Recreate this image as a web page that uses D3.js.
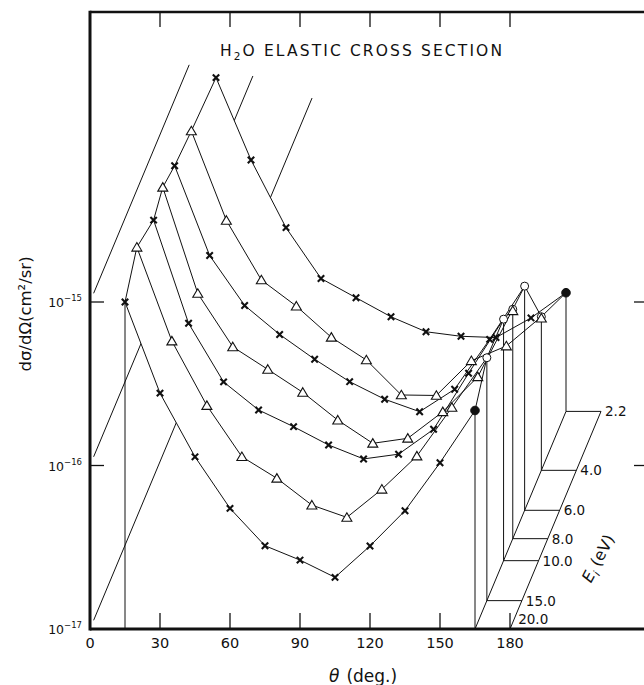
<!DOCTYPE html>
<html>
<head>
<meta charset="utf-8">
<script src="https://cdn.jsdelivr.net/npm/d3@7"></script>
<style>
  html, body { margin: 0; padding: 0; background: #fff; }
  svg { display: block; }
  text { font-family: "DejaVu Sans", "Liberation Sans", sans-serif; fill: #111; }
</style>
</head>
<body>
<svg id="chart" width="644" height="685"></svg>
<script>
// ---------------- data ----------------
const angles = [15, 30, 45, 60, 75, 90, 105, 120, 135, 150, 165];      // scattering angle (deg)
const energies = [20.0, 15.0, 10.0, 8.0, 6.0, 4.0, 2.2];                // incident energy (eV)
const energyLabels = ["20.0", "15.0", "10.0", "8.0", "6.0", "4.0", "2.2"];
const markerKinds = ["cross", "triangle", "cross", "triangle", "cross", "triangle", "cross"];
const endKinds = ["filled", "open", "open", "openTri", "open", "openTri", "filled"];

// differential cross sections (cm^2/sr)
const dcs20 = [1.00e-15, 2.77e-16, 1.13e-16, 5.47e-17, 3.23e-17, 2.64e-17, 2.07e-17, 3.22e-17, 5.29e-17, 1.04e-16, 2.17e-16];
const dcs15 = [1.45e-15, 3.87e-16, 1.56e-16, 7.59e-17, 5.60e-17, 3.84e-17, 3.23e-17, 4.80e-17, 7.66e-17, 1.52e-16, 3.06e-16];
const dcs10 = [1.21e-15, 2.83e-16, 1.24e-16, 8.35e-17, 6.60e-17, 5.10e-17, 4.19e-17, 4.48e-17, 6.36e-17, 1.40e-16, 3.00e-16];
const dcs8  = [1.41e-15, 3.16e-16, 1.49e-16, 1.085e-16, 7.85e-17, 5.31e-17, 3.83e-17, 4.11e-17, 5.97e-17, 9.77e-17, 2.53e-16];
const dcs6  = [1.28e-15, 3.62e-16, 1.79e-16, 1.19e-16, 8.39e-17, 6.12e-17, 4.78e-17, 4.01e-17, 5.50e-17, 1.11e-16, 2.35e-16];
const dcs4  = [1.19e-15, 3.38e-16, 1.46e-16, 1.01e-16, 6.51e-17, 4.73e-17, 2.89e-17, 2.87e-17, 4.68e-17, 5.76e-17, 8.70e-17];
const dcs22 = [1.10e-15, 3.45e-16, 1.33e-16, 6.50e-17, 4.96e-17, 3.79e-17, 3.07e-17, 2.88e-17, 2.83e-17, 3.73e-17, 5.32e-17];
const dcsSeries = [dcs20, dcs15, dcs10, dcs8, dcs6, dcs4, dcs22];

const xTicks = [0, 30, 60, 90, 120, 150, 180];
const yTicks = [1e-17, 1e-16, 1e-15];
const yTickExp = ["-17", "-16", "-15"];
const wallReach = [2.44, 1.79, 1.09];   // extent of wall grid lines along the energy (depth) axis
const wallStart = 0.04;
const ribbonAngles = [165, 180];        // floor ribbon carrying the energy axis

// ---------------- scales ----------------
const svg = d3.select("#chart");
const x = d3.scaleLinear().domain([0, 180]).range([90, 510]);
const y = d3.scaleLog().domain([1e-17, 1e-15]).range([629, 302]);
const depth = d3.scaleLog().domain([20, 2.2]).range([0, 1]);
const DX = 91, DY = -217.6;              // oblique direction of the energy axis
const proj = (theta, sig, t) => [x(theta) + t * DX, y(sig) + t * DY];

const series = energies.map((E, i) => {
  const t = depth(E);
  return {
    E, t, label: energyLabels[i], marker: markerKinds[i], end: endKinds[i],
    pts: angles.map((a, j) => proj(a, dcsSeries[i][j], t))
  };
});

const yBase = y(1e-17);
const plotRight = 646, plotTop = 12;

// ---------------- frame & axes ----------------
const frame = svg.append("g").attr("stroke", "#111").attr("fill", "none");
frame.append("line").attr("x1", x(0)).attr("x2", plotRight).attr("y1", plotTop).attr("y2", plotTop).attr("stroke-width", 2.5);
frame.append("line").attr("x1", x(0)).attr("x2", plotRight).attr("y1", yBase).attr("y2", yBase).attr("stroke-width", 3);
frame.append("line").attr("x1", x(0)).attr("x2", x(0)).attr("y1", plotTop - 1.2).attr("y2", yBase + 1.5).attr("stroke-width", 3);

xTicks.filter(d => d > 0).forEach(d => {
  frame.append("line").attr("x1", x(d)).attr("x2", x(d)).attr("y1", yBase).attr("y2", yBase - 16).attr("stroke-width", 1.3);
  frame.append("line").attr("x1", x(d)).attr("x2", x(d)).attr("y1", plotTop).attr("y2", plotTop + 15).attr("stroke-width", 1.3);
});
yTicks.filter(d => d > 1e-17).forEach(d => {
  frame.append("line").attr("x1", x(0)).attr("x2", x(0) + 14).attr("y1", y(d)).attr("y2", y(d)).attr("stroke-width", 1.3);
  frame.append("line").attr("x1", 634).attr("x2", plotRight).attr("y1", y(d)).attr("y2", y(d)).attr("stroke-width", 1.3);
});

svg.append("g").selectAll("text").data(xTicks).join("text")
  .attr("x", d => x(d)).attr("y", 648).attr("text-anchor", "middle")
  .attr("font-size", 14.5).text(d => d);

const yl = svg.append("g").selectAll("text").data(yTicks).join("text")
  .attr("x", 82).attr("y", d => y(d) + 5).attr("text-anchor", "end").attr("font-size", 12.5);
yl.append("tspan").text("10");
yl.append("tspan").attr("font-size", 8.5).attr("dy", -6).text((d, i) => "\u2212" + yTickExp[i].slice(1));

// axis titles
svg.append("text").attr("transform", "translate(31,314) rotate(-90)").attr("text-anchor", "middle")
  .attr("font-size", 16.5).text("d\u03C3/d\u03A9(cm\u00B2/sr)");

const xt = svg.append("text").attr("x", 329).attr("y", 682).attr("font-size", 17);
xt.append("tspan").attr("font-style", "italic").text("\u03B8");
xt.append("tspan").attr("dx", 7).text("(deg.)");

const title = svg.append("text").attr("x", 220).attr("y", 56).attr("font-size", 15.5)
  .attr("textLength", 282).attr("lengthAdjust", "spacing");
title.append("tspan").text("H");
title.append("tspan").attr("font-size", 10.5).attr("dy", 4).text("2");
title.append("tspan").attr("dy", -4).text("O ELASTIC CROSS SECTION");

// ---------------- wall grid lines (theta = 0 plane) ----------------
const gWall = svg.append("g").attr("stroke", "#111").attr("stroke-width", 1).attr("fill", "none");
yTicks.forEach((d, i) => {
  const a = proj(0, d, wallStart), b = proj(0, d, wallReach[i]);
  gWall.append("line").attr("x1", a[0]).attr("y1", a[1]).attr("x2", b[0]).attr("y2", b[1]);
});

// ---------------- opaque surface (hidden-line removal) ----------------
const gSurf = svg.append("g").attr("fill", "#fff").attr("stroke", "none");
for (let i = 0; i < series.length - 1; i++) {
  const poly = series[i].pts.concat(series[i + 1].pts.slice().reverse());
  gSurf.append("path").attr("d", "M" + poly.map(p => p.join(",")).join("L") + "Z");
}

// ---------------- floor ribbon (energy axis) ----------------
const gFloor = svg.append("g").attr("stroke", "#111").attr("stroke-width", 1).attr("fill", "none");
ribbonAngles.forEach(a => {
  const p0 = proj(a, 1e-17, 0), p1 = proj(a, 1e-17, 1);
  gFloor.append("line").attr("x1", p0[0]).attr("y1", p0[1]).attr("x2", p1[0]).attr("y2", p1[1]);
});
series.forEach(s => {
  const a = proj(ribbonAngles[0], 1e-17, s.t), b = proj(ribbonAngles[1], 1e-17, s.t);
  gFloor.append("line").attr("x1", a[0]).attr("y1", a[1]).attr("x2", b[0]).attr("y2", b[1]);
  const last = s.pts[s.pts.length - 1];
  gFloor.append("line").attr("x1", last[0]).attr("y1", last[1]).attr("x2", a[0]).attr("y2", a[1]);
});
// front edge at the first angle
{
  const s = series[0], p = s.pts[0], b = proj(angles[0], 1e-17, 0);
  gFloor.append("line").attr("x1", p[0]).attr("y1", p[1]).attr("x2", b[0]).attr("y2", b[1]);
}

// energy labels
svg.append("g").selectAll("text").data(series).join("text")
  .attr("font-size", 13.5)
  .attr("x", s => {
    const b = proj(ribbonAngles[1], 1e-17, s.t);
    const yy = Math.min(b[1], yBase - 10);
    return b[0] + (b[1] - yy) * DX / -DY + 4;
  })
  .attr("y", s => Math.min(proj(ribbonAngles[1], 1e-17, s.t)[1], yBase - 10) + 5)
  .text(s => s.label);

const et = svg.append("text").attr("transform", "translate(603,561) rotate(-62)")
  .attr("text-anchor", "middle").attr("font-size", 16);
et.append("tspan").attr("font-style", "italic").text("E");
et.append("tspan").attr("font-style", "italic").attr("font-size", 10.5).attr("dy", 4).text("i");
et.append("tspan").attr("dy", -4).attr("dx", 5).text("(eV)");

// ---------------- curves and ridges ----------------
const line = d3.line();
const gLines = svg.append("g").attr("stroke", "#111").attr("stroke-width", 1).attr("fill", "none");
series.forEach(s => gLines.append("path").attr("d", line(s.pts)));
gLines.append("path").attr("d", line(series.map(s => s.pts[0])));
gLines.append("path").attr("d", line(series.map(s => s.pts[s.pts.length - 1])));

// ---------------- markers ----------------
const gMark = svg.append("g");
function cross(p) {
  const r = 3.2;
  gMark.append("path").attr("d", `M${p[0]-r},${p[1]-r}L${p[0]+r},${p[1]+r}M${p[0]-r},${p[1]+r}L${p[0]+r},${p[1]-r}`)
    .attr("stroke", "#111").attr("stroke-width", 2.1).attr("fill", "none");
}
function tri(p, dy = 0) {
  const w = 5, h = 8.5, cy = p[1] + dy;
  gMark.append("path").attr("d", `M${p[0]},${cy - h*0.55}L${p[0]+w},${cy + h*0.45}L${p[0]-w},${cy + h*0.45}Z`)
    .attr("stroke", "#111").attr("stroke-width", 1.1).attr("fill", "#fff");
}
function circ(p, filled) {
  gMark.append("circle").attr("cx", p[0]).attr("cy", p[1]).attr("r", filled ? 4.3 : 4)
    .attr("stroke", "#111").attr("stroke-width", 1).attr("fill", filled ? "#111" : "#fff");
}
series.forEach(s => {
  s.pts.forEach((p, j) => {
    if (j === s.pts.length - 1) {
      if (s.end === "filled") circ(p, true);
      else if (s.end === "open") circ(p, false);
      else { circ(p, false); tri(p, 1.5); }
    } else if (s.marker === "cross") cross(p);
    else tri(p);
  });
});
</script>
</body>
</html>
